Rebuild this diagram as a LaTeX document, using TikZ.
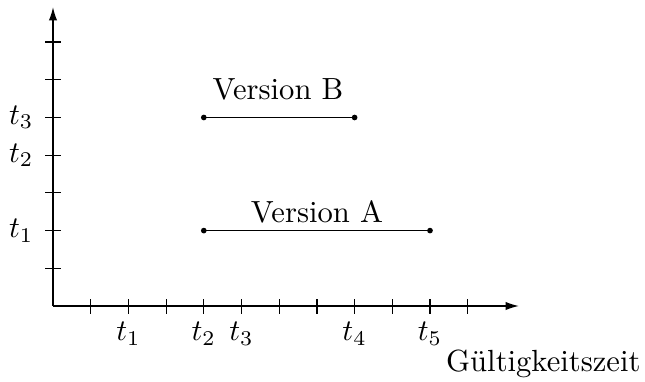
\documentclass[tikz,border=0pt]{standalone}
\usetikzlibrary{arrows.meta}
\begin{document}
\begin{tikzpicture}[x=0.3333pt,y=-0.3333pt,
  axis/.style={line width=0.5pt,-{Latex[length=4.5pt,width=2.8pt]}},
  tick/.style={line width=0.4pt},
  span/.style={line width=0.5pt},
  dot/.style={circle,fill=black,inner sep=0pt,minimum size=1.9pt},
  lbl/.style={inner sep=0pt,font=\fontsize{10.2}{12}\selectfont}]
\useasboundingbox (0,0) rectangle (645,381);
\coordinate (O) at (53,306);
\coordinate (xe) at (519,306);
\coordinate (ye) at (53,7);
\draw[axis] (O) -- (xe);
\draw[axis] (O) -- (ye);
\foreach \k in {1,...,11}{
  \draw[tick] ({53+37.7*\k},299) -- ({53+37.7*\k},314);
}
\foreach \k in {1,...,7}{
  \draw[tick] (45,{306-37.7*\k}) -- (61,{306-37.7*\k});
}
% x labels
\node[lbl] (xt1) at (128.4,334) {$t_1$};
\node[lbl] (xt2) at (203.8,334) {$t_2$};
\node[lbl] (xt3) at (241.5,334) {$t_3$};
\node[lbl] (xt4) at (354.6,334) {$t_4$};
\node[lbl] (xt5) at (430,334) {$t_5$};
\node[lbl,anchor=east] (yt1) at (34,230.6) {$t_1$};
\node[lbl,anchor=east] (yt2) at (34,155.2) {$t_2$};
\node[lbl,anchor=east] (yt3) at (34,117.5) {$t_3$};
\node[lbl,anchor=east] (gz) at (641,364) {Gültigkeitszeit};
% versions
\node[dot] (b1) at (203.8,117.5) {};
\node[dot] (b2) at (354.6,117.5) {};
\draw[span] (b1.center) -- (b2.center);
\node[lbl] (vb) at (278,89) {Version B};
\node[dot] (a1) at (203.8,230.6) {};
\node[dot] (a2) at (430,230.6) {};
\draw[span] (a1.center) -- (a2.center);
\node[lbl] (va) at (317,212) {Version A};
\end{tikzpicture}
\end{document}
